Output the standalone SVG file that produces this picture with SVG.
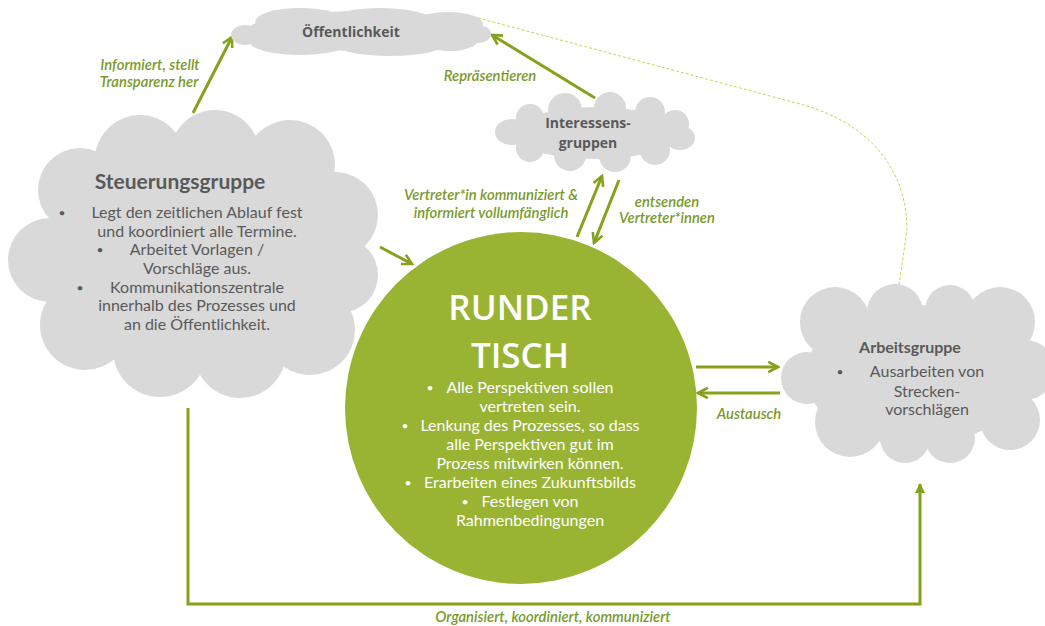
<svg xmlns="http://www.w3.org/2000/svg" width="1045" height="626" viewBox="0 0 1045 626">
<style>
.cloud{fill:#d9d9d9}
.ttl{font-family:"Open Sans","Lato",sans-serif;font-weight:700;fill:#595959;text-anchor:middle}
.hd{font-family:"Lato","Open Sans",sans-serif;font-weight:700;fill:#595959;text-anchor:middle}
.bd{font-family:"Lato","Open Sans",sans-serif;font-size:16px;fill:#595959;text-anchor:middle}
.wt{font-family:"Lato","Open Sans",sans-serif;font-size:16px;fill:#ffffff;text-anchor:middle}
.bl{font-family:"Lato","Open Sans",sans-serif;font-size:12px;text-anchor:middle}
.lbl{font-family:"Lato","Open Sans",sans-serif;font-size:14.8px;font-style:italic;font-weight:600;fill:#7a9a2c;text-anchor:middle}
.arr{fill:none;stroke:#84a21c;stroke-width:3}
</style>
<defs>
<marker id="chev" viewBox="0 0 10 10" refX="8.5" refY="5" markerWidth="13" markerHeight="13" markerUnits="userSpaceOnUse" orient="auto">
<path d="M1,1 L8.5,5 L1,9" fill="none" stroke="#84a21c" stroke-width="2"/>
</marker>
<marker id="tri" viewBox="0 0 10 10" refX="9" refY="5" markerWidth="10" markerHeight="10" markerUnits="userSpaceOnUse" orient="auto">
<path d="M0,0 L10,5 L0,10 Z" fill="#84a21c"/>
</marker>
</defs>
<rect width="1045" height="626" fill="#ffffff"/>

<g id="connectors">
<path d="M478,18 L800,104 C870,123 907,170 907,230 L898,292" fill="none" stroke="#c5d64a" stroke-width="1" stroke-dasharray="3,2"/>
<line class="arr" x1="193" y1="113" x2="232" y2="37" marker-end="url(#chev)"/>
<line class="arr" x1="595" y1="98" x2="492" y2="35" marker-end="url(#chev)"/>
<line class="arr" x1="577" y1="237" x2="602" y2="176" marker-end="url(#chev)"/>
<line class="arr" x1="619" y1="180" x2="594" y2="243" marker-end="url(#chev)"/>
<line class="arr" x1="380" y1="247" x2="412" y2="264" marker-end="url(#chev)"/>
<line class="arr" x1="696" y1="367" x2="778" y2="367" marker-end="url(#chev)"/>
<line class="arr" x1="780" y1="393" x2="698" y2="393" marker-end="url(#chev)"/>
<path class="arr" d="M188,408 L188,604 L920,604 L920,484" marker-end="url(#tri)"/>
<text class="lbl" x="150" y="70">Informiert, stellt</text>
<text class="lbl" x="149" y="87">Transparenz her</text>
<text class="lbl" x="490" y="81">Repräsentieren</text>
<text class="lbl" x="491" y="200">Vertreter*in kommuniziert &amp;</text>
<text class="lbl" x="491" y="218">informiert vollumfänglich</text>
<text class="lbl" x="667" y="207">entsenden</text>
<text class="lbl" x="667" y="223">Vertreter*innen</text>
<text class="lbl" x="749" y="419">Austausch</text>
<text class="lbl" x="553" y="622">Organisiert, koordiniert, kommuniziert</text>
</g>

<g id="oeffentlichkeit">
<g class="cloud">
<ellipse cx="362" cy="31" rx="115" ry="20"/>
<ellipse cx="300" cy="22" rx="45" ry="14"/><ellipse cx="380" cy="20" rx="50" ry="12"/><ellipse cx="448" cy="24" rx="35" ry="12"/>
<ellipse cx="300" cy="42" rx="50" ry="13"/><ellipse cx="390" cy="44" rx="55" ry="12"/><ellipse cx="450" cy="40" rx="28" ry="11"/>
<ellipse cx="245" cy="35" rx="14" ry="10"/><ellipse cx="478" cy="34" rx="13" ry="9"/>
</g>
<text class="ttl" x="351" y="37" font-size="14">Öffentlichkeit</text>
</g>

<g id="steuerungsgruppe">
<g class="cloud">
<ellipse cx="193" cy="255" rx="150" ry="110"/>
<circle cx="80" cy="190" r="42"/><circle cx="140" cy="160" r="45"/><circle cx="215" cy="155" r="45"/><circle cx="290" cy="165" r="45"/>
<circle cx="335" cy="215" r="43"/><circle cx="340" cy="275" r="38"/><circle cx="310" cy="330" r="45"/><circle cx="240" cy="352" r="46"/>
<circle cx="160" cy="350" r="47"/><circle cx="85" cy="325" r="45"/><circle cx="50" cy="260" r="42"/>
</g>
<text class="hd" x="180" y="189" font-size="21">Steuerungsgruppe</text>
<text class="bl" x="62" y="217" fill="#595959">•</text>
<text class="bd" x="197" y="218">Legt den zeitlichen Ablauf fest</text>
<text class="bd" x="197" y="237">und koordiniert alle Termine.</text>
<text class="bl" x="100" y="254" fill="#595959">•</text>
<text class="bd" x="197" y="255">Arbeitet Vorlagen /</text>
<text class="bd" x="197" y="274">Vorschläge aus.</text>
<text class="bl" x="80" y="292" fill="#595959">•</text>
<text class="bd" x="197" y="293">Kommunikationszentrale</text>
<text class="bd" x="197" y="311">innerhalb des Prozesses und</text>
<text class="bd" x="197" y="330">an die Öffentlichkeit.</text>
</g>

<g id="interessensgruppen">
<g class="cloud">
<ellipse cx="595" cy="133" rx="82" ry="26"/>
<circle cx="530" cy="118" r="14"/><circle cx="565" cy="110" r="17"/><circle cx="610" cy="108" r="16"/><circle cx="650" cy="112" r="15"/><circle cx="675" cy="124" r="14"/>
<ellipse cx="512" cy="132" rx="17" ry="13"/><ellipse cx="680" cy="138" rx="15" ry="12"/>
<circle cx="530" cy="148" r="14"/><circle cx="570" cy="155" r="16"/><circle cx="615" cy="156" r="16"/><circle cx="655" cy="150" r="15"/>
</g>
<text class="ttl" x="588" y="128" font-size="14">Interessens-</text>
<text class="ttl" x="588" y="148" font-size="14">gruppen</text>
</g>

<g id="runder-tisch">
<circle cx="521" cy="408" r="176" fill="#99b433"/>
<text x="520" y="320" font-family="Open Sans, Lato, sans-serif" font-weight="600" font-size="35" fill="#ffffff" text-anchor="middle">RUNDER</text>
<text x="520" y="368" font-family="Open Sans, Lato, sans-serif" font-weight="600" font-size="35" fill="#ffffff" text-anchor="middle">TISCH</text>
<text class="bl" x="430" y="392" fill="#ffffff">•</text>
<text class="wt" x="530" y="393">Alle Perspektiven sollen</text>
<text class="wt" x="530" y="412">vertreten sein.</text>
<text class="bl" x="405" y="430" fill="#ffffff">•</text>
<text class="wt" x="530" y="431">Lenkung des Prozesses, so dass</text>
<text class="wt" x="530" y="450">alle Perspektiven gut im</text>
<text class="wt" x="530" y="469">Prozess mitwirken können.</text>
<text class="bl" x="408" y="487" fill="#ffffff">•</text>
<text class="wt" x="530" y="488">Erarbeiten eines Zukunftsbilds</text>
<text class="bl" x="465" y="506" fill="#ffffff">•</text>
<text class="wt" x="530" y="507">Festlegen von</text>
<text class="wt" x="530" y="526">Rahmenbedingungen</text>
</g>

<g id="arbeitsgruppe">
<g class="cloud">
<ellipse cx="915" cy="375" rx="110" ry="70"/>
<circle cx="835" cy="322" r="35"/><circle cx="895" cy="312" r="28"/><circle cx="950" cy="310" r="25"/><circle cx="1000" cy="322" r="35"/>
<circle cx="1025" cy="370" r="30"/><circle cx="1010" cy="420" r="30"/><circle cx="950" cy="438" r="25"/><circle cx="905" cy="438" r="25"/>
<circle cx="850" cy="422" r="35"/><circle cx="807" cy="378" r="26"/>
</g>
<text class="hd" x="910" y="353" font-size="16">Arbeitsgruppe</text>
<text class="bl" x="840" y="376" fill="#595959">•</text>
<text class="bd" x="927" y="377">Ausarbeiten von</text>
<text class="bd" x="927" y="397">Strecken-</text>
<text class="bd" x="927" y="415">vorschlägen</text>
</g>
</svg>
